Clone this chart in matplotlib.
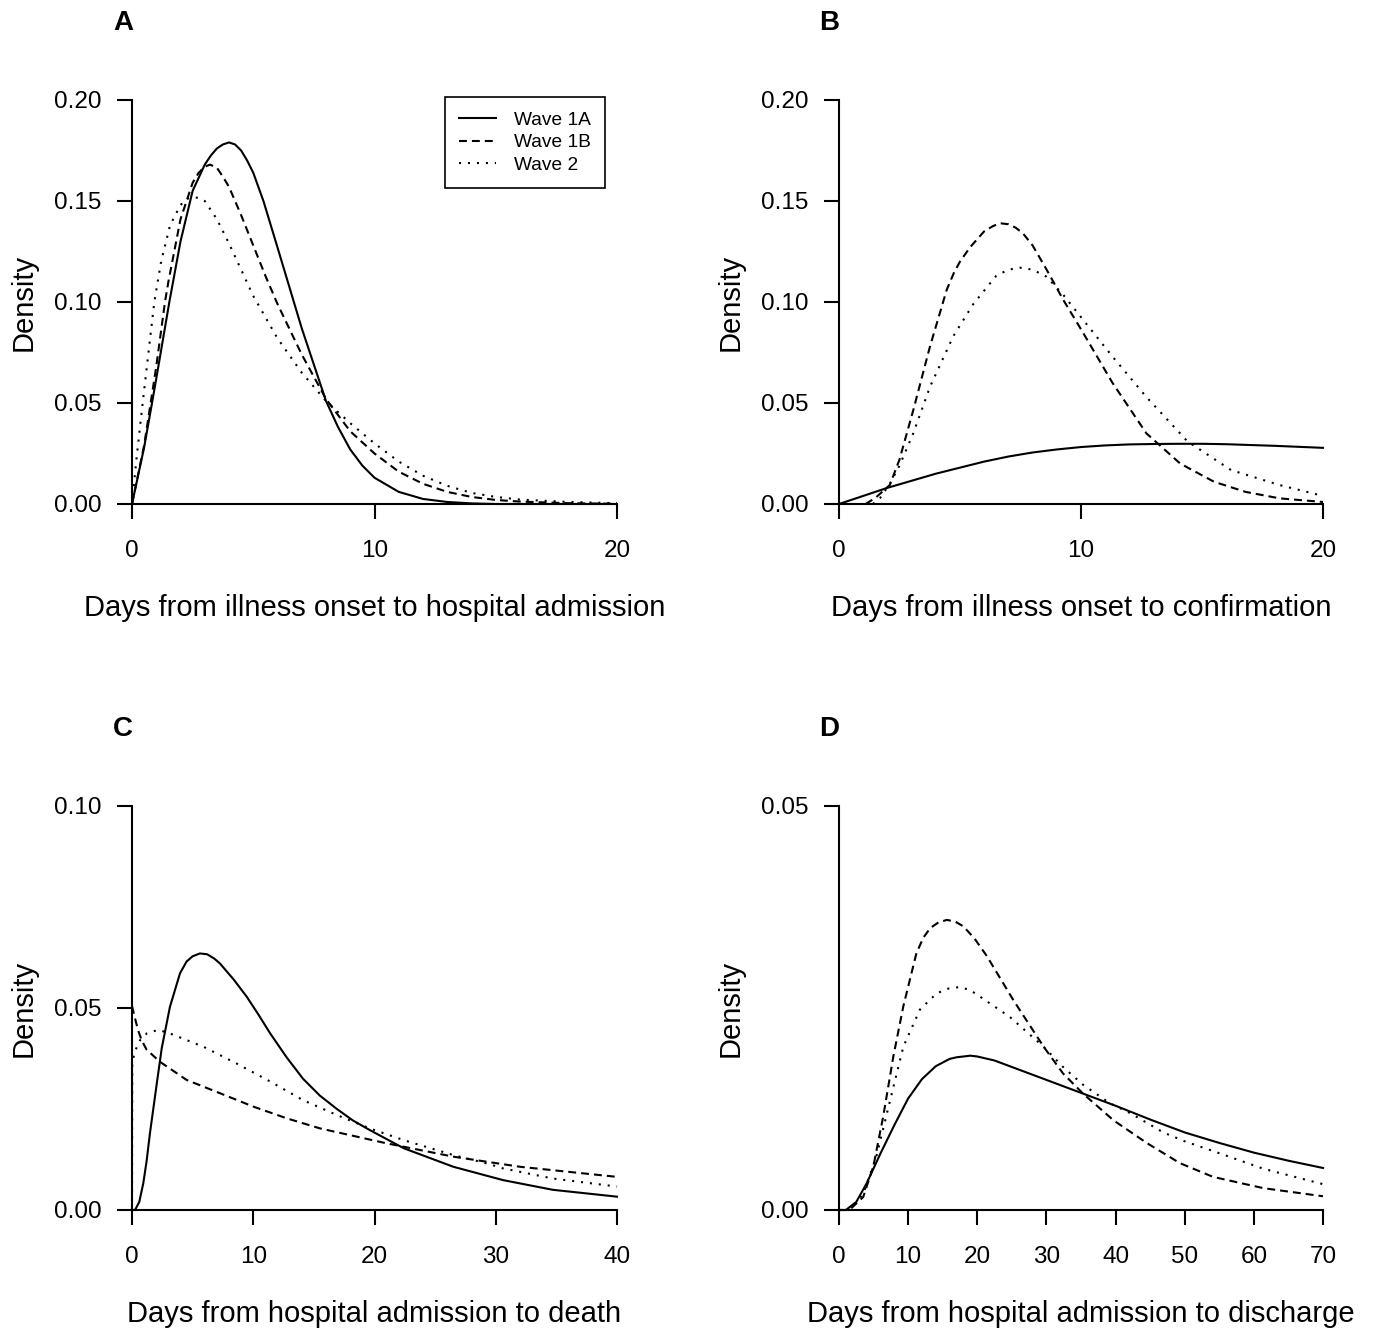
import matplotlib
matplotlib.use("Agg")
import matplotlib.pyplot as plt

plt.rcParams['font.family'] = ['Liberation Sans', 'DejaVu Sans']

# ---------------- Data ----------------
series_names = ["Wave 1A", "Wave 1B", "Wave 2"]
panel_letters = ["A", "B", "C", "D"]
x_titles = ["Days from illness onset to hospital admission",
            "Days from illness onset to confirmation",
            "Days from hospital admission to death",
            "Days from hospital admission to discharge"]

# Panel A: illness onset -> hospital admission
A_1A_x = [0, 0.5, 0.84, 1, 1.54, 2, 2.5, 3, 3.25, 3.5, 3.75, 4, 4.25, 4.5, 4.75, 5, 5.42, 6, 6.75, 7, 7.5, 8, 8.5, 9, 9.5, 10, 11, 12, 13, 14, 15, 20]
A_1A_y = [0, 0.028, 0.051, 0.062, 0.100, 0.130, 0.155, 0.168, 0.1725, 0.176, 0.178, 0.179, 0.178, 0.175, 0.170, 0.164, 0.150, 0.127, 0.097, 0.087, 0.069, 0.051, 0.038, 0.027, 0.019, 0.013, 0.006, 0.0025, 0.001, 0.0003, 0, 0]
A_1B_x = [0, 0.5, 1, 1.36, 1.5, 2, 2.5, 2.75, 3, 3.22, 3.5, 3.75, 4, 4.5, 5, 5.5, 6, 7, 8, 9, 10, 11, 12, 13, 14, 15, 16, 18, 20]
A_1B_y = [0, 0.029, 0.068, 0.100, 0.110, 0.141, 0.159, 0.164, 0.1670, 0.168, 0.1665, 0.162, 0.157, 0.143, 0.128, 0.113, 0.099, 0.074, 0.052, 0.036, 0.025, 0.016, 0.010, 0.006, 0.0035, 0.002, 0.0012, 0.0004, 0.0001]
A_2_x = [0, 0.19, 0.44, 0.92, 1.2, 1.57, 2, 2.25, 2.5, 2.75, 3, 3.5, 4, 4.5, 5, 6, 7, 8, 9, 10, 11, 12, 13, 14, 15, 16, 18, 20]
A_2_y = [0, 0.023, 0.050, 0.100, 0.120, 0.138, 0.148, 0.151, 0.152, 0.1515, 0.150, 0.141, 0.129, 0.116, 0.103, 0.082, 0.065, 0.051, 0.040, 0.030, 0.021, 0.014, 0.009, 0.0055, 0.0035, 0.0022, 0.001, 0.0004]

# Panel B: illness onset -> confirmation
B_1A_x = [0, 1, 2, 3, 4, 5, 6, 7, 8, 9, 10, 11, 12, 13, 14, 15, 16, 17, 18, 19, 20]
B_1A_y = [0, 0.004, 0.008, 0.0115, 0.015, 0.018, 0.021, 0.0235, 0.0255, 0.027, 0.0282, 0.029, 0.0295, 0.0297, 0.0298, 0.0298, 0.0296, 0.0292, 0.0288, 0.0283, 0.0278]
B_1B_x = [1.1, 1.5, 2.1, 2.5, 3.07, 3.76, 4.45, 4.75, 5, 5.41, 6, 6.35, 6.65, 7, 7.3, 7.6, 8, 8.58, 9.27, 10.1, 11.3, 12.7, 14.1, 15.5, 16.8, 18.2, 20]
B_1B_y = [0, 0.003, 0.0094, 0.022, 0.0465, 0.078, 0.106, 0.1145, 0.120, 0.127, 0.135, 0.1375, 0.139, 0.1385, 0.1368, 0.134, 0.128, 0.116, 0.101, 0.0845, 0.060, 0.035, 0.020, 0.011, 0.006, 0.0028, 0.0010]
B_2_x = [1.4, 1.7, 2.1, 2.5, 3.07, 3.76, 4.72, 5.55, 6.5, 7, 7.48, 8, 8.58, 9.27, 10.1, 11.3, 12.7, 14.4, 16.2, 18.2, 20]
B_2_y = [0, 0.003, 0.010, 0.019, 0.035, 0.058, 0.083, 0.099, 0.113, 0.116, 0.117, 0.116, 0.1125, 0.1035, 0.091, 0.073, 0.053, 0.031, 0.0168, 0.0094, 0.004]

# Panel C: hospital admission -> death
C_1A_x = [0, 0.25, 0.6, 0.93, 1.2, 1.48, 2.03, 2.45, 3.13, 3.96, 4.5, 5.0, 5.6, 6.2, 6.8, 7.26, 8.4, 9.46, 10.4, 11.4, 12.75, 14.1, 15.5, 16.9, 18.2, 19.6, 22.4, 26.5, 30.6, 34.7, 40]
C_1A_y = [0, 0, 0.002, 0.0066, 0.012, 0.019, 0.031, 0.040, 0.0503, 0.0586, 0.0615, 0.0628, 0.0635, 0.0633, 0.0622, 0.061, 0.057, 0.0528, 0.0485, 0.0437, 0.0378, 0.0325, 0.0283, 0.0250, 0.0222, 0.0198, 0.0153, 0.0107, 0.0074, 0.005, 0.0033]
C_1B_x = [0, 0.2, 0.5, 0.8, 1.2, 2.3, 4.5, 7.26, 10, 12.75, 15.5, 21, 26.5, 32, 40]
C_1B_y = [0.0505, 0.048, 0.0445, 0.042, 0.0397, 0.0367, 0.0322, 0.0289, 0.0256, 0.0227, 0.0202, 0.0165, 0.0132, 0.0107, 0.0082]
C_2_x = [0, 0.02, 0.2, 0.66, 1.21, 2.17, 3.13, 5.9, 8.6, 11.4, 14.1, 16.9, 19.6, 22.4, 26.5, 29.3, 30.6, 34.7, 40]
C_2_y = [0, 0.036, 0.039, 0.042, 0.0437, 0.0446, 0.0437, 0.0404, 0.0363, 0.0318, 0.0272, 0.0235, 0.0202, 0.0173, 0.0136, 0.0115, 0.0103, 0.0078, 0.0058]

# Panel D: hospital admission -> discharge
D_1A_x = [0, 1, 2.5, 4, 6, 8, 10, 12, 14, 16, 17, 18, 19, 20, 21, 22.5, 25, 30, 35, 40, 45, 50, 55, 60, 65, 70]
D_1A_y = [0, 0, 0.001, 0.0033, 0.007, 0.0105, 0.0138, 0.0162, 0.0178, 0.0187, 0.0189, 0.0190, 0.0191, 0.0190, 0.0188, 0.0185, 0.0177, 0.0161, 0.0145, 0.0129, 0.0112, 0.0096, 0.0083, 0.0071, 0.0061, 0.0052]
D_1B_x = [0, 1.5, 3.5, 4.97, 6.4, 7.86, 9.3, 11.2, 12.2, 13.2, 14.4, 15.6, 16.8, 18, 19.6, 21.4, 25.2, 29.6, 32.4, 35.3, 39.7, 44.5, 49.3, 54.1, 61.4, 70]
D_1B_y = [0, 0, 0.0016, 0.0054, 0.0116, 0.019, 0.0252, 0.0318, 0.0337, 0.0349, 0.0356, 0.0359, 0.0357, 0.0351, 0.0336, 0.0314, 0.026, 0.0202, 0.0169, 0.0144, 0.0111, 0.0083, 0.0058, 0.0041, 0.0027, 0.0017]
D_2_x = [0, 1.5, 3.5, 5.4, 7.4, 9.3, 11.7, 14.1, 15.8, 17.5, 19.0, 20.4, 24.7, 29.6, 32.4, 35.3, 39.2, 42.1, 46.9, 50, 54.1, 61.4, 70]
D_2_y = [0, 0, 0.002, 0.0066, 0.0136, 0.0202, 0.0248, 0.0268, 0.0274, 0.0276, 0.0272, 0.0264, 0.0239, 0.0202, 0.0177, 0.0155, 0.0132, 0.012, 0.0096, 0.0085, 0.0073, 0.0051, 0.0032]

A_xticks = [0, 10, 20]
A_yticks = [0.00, 0.05, 0.10, 0.15, 0.20]
B_xticks = [0, 10, 20]
B_yticks = [0.00, 0.05, 0.10, 0.15, 0.20]
C_xticks = [0, 10, 20, 30, 40]
C_yticks = [0.00, 0.05, 0.10]
D_xticks = [0, 10, 20, 30, 40, 50, 60, 70]
D_yticks = [0.00, 0.05]

# ---------------- Figure ----------------
W, H = 1374, 1330
fig = plt.figure(figsize=(W / 100, H / 100), dpi=100)
fig.patch.set_facecolor("white")

styles = [dict(linestyle="-"),
          dict(linestyle=(0, (3.8, 2.4))),
          dict(linestyle=(0, (1.0, 3.3)))]
LW = 1.5

panels = [
    dict(rect=(132, 100, 485, 404), xlim=(0, 20), ylim=(0, 0.20), xt=A_xticks, yt=A_yticks,
         data=[(A_1A_x, A_1A_y), (A_1B_x, A_1B_y), (A_2_x, A_2_y)]),
    dict(rect=(839, 100, 484, 404), xlim=(0, 20), ylim=(0, 0.20), xt=B_xticks, yt=B_yticks,
         data=[(B_1A_x, B_1A_y), (B_1B_x, B_1B_y), (B_2_x, B_2_y)]),
    dict(rect=(132, 806, 485, 404), xlim=(0, 40), ylim=(0, 0.10), xt=C_xticks, yt=C_yticks,
         data=[(C_1A_x, C_1A_y), (C_1B_x, C_1B_y), (C_2_x, C_2_y)]),
    dict(rect=(839, 806, 484, 404), xlim=(0, 70), ylim=(0, 0.05), xt=D_xticks, yt=D_yticks,
         data=[(D_1A_x, D_1A_y), (D_1B_x, D_1B_y), (D_2_x, D_2_y)]),
]

axes = []
for i, p in enumerate(panels):
    l, t, w, h = p["rect"]
    ax = fig.add_axes([l / W, (H - t - h) / H, w / W, h / H])
    axes.append(ax)
    for (xs, ys), st, name in zip(p["data"], styles, series_names):
        ax.plot(xs, ys, color="black", linewidth=LW, label=name, clip_on=False,
                solid_joinstyle="round", dash_joinstyle="round", **st)
    ax.set_xlim(*p["xlim"])
    ax.set_ylim(*p["ylim"])
    ax.set_xticks(p["xt"])
    ax.set_xticklabels([str(v) for v in p["xt"]])
    ax.set_yticks(p["yt"])
    ax.set_yticklabels(["%.2f" % v for v in p["yt"]])
    for s in ["top", "right"]:
        ax.spines[s].set_visible(False)
    for s in ["left", "bottom"]:
        ax.spines[s].set_linewidth(1.5)
        ax.spines[s].set_capstyle("projecting")
    ax.tick_params(axis="both", direction="out", length=11, width=1.5, labelsize=17.5, colors="black")
    ax.tick_params(axis="x", pad=15)
    ax.tick_params(axis="y", pad=11)
    ax.set_xlabel(x_titles[i], fontsize=21)
    ax.xaxis.set_label_coords(0.5, -0.222)
    ax.set_ylabel("Density", fontsize=21)
    ax.yaxis.set_label_coords(-0.195, 0.5)

# Legend in panel A
leg = axes[0].legend(loc="upper right", bbox_to_anchor=(0.975, 1.0074), fontsize=13.8,
                     frameon=True, fancybox=False, edgecolor="black", framealpha=1,
                     handlelength=1.9, handletextpad=0.93, labelspacing=0.27,
                     borderpad=0.75, borderaxespad=0.0)
leg.get_frame().set_linewidth(1.2)

# Panel letters
letter_pos = [(123, 23), (829, 23), (123, 729), (829, 729)]
for letter, (px, py) in zip(panel_letters, letter_pos):
    fig.text(px / W, 1 - py / H, letter, fontsize=20, fontweight="bold", ha="center", va="center")

fig.savefig("out.png", dpi=100, facecolor="white")
